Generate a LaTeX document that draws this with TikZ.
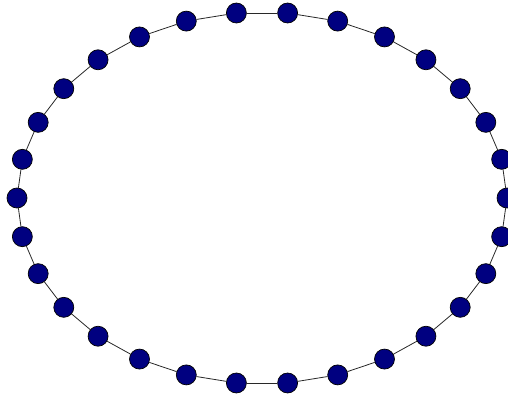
\documentclass[tikz,border=0pt]{standalone}
\usetikzlibrary{backgrounds}
\definecolor{navyfill}{RGB}{0,0,128}
\definecolor{edgegray}{RGB}{40,40,40}
\tikzset{
  vert/.style={circle, draw=black, line width=0.7pt, fill=navyfill, minimum size=20pt, inner sep=0pt},
  edge/.style={draw=edgegray, line width=0.8pt}
}
\begin{document}
\begin{tikzpicture}[x=1pt,y=-1pt]
\useasboundingbox (0,0) rectangle (508,398);
\clip (0,0) rectangle (508,398);
\foreach \i in {0,...,29} {
  \node[vert] (n\i) at ({262+245*cos(12*\i)},{198-186*sin(12*\i)}) {};
}
\begin{scope}[on background layer]
\foreach \i in {0,...,29} {
  \pgfmathtruncatemacro{\j}{mod(\i+1,30)}
  \draw[edge] (n\i) -- (n\j);
}
\end{scope}
\end{tikzpicture}
\end{document}
